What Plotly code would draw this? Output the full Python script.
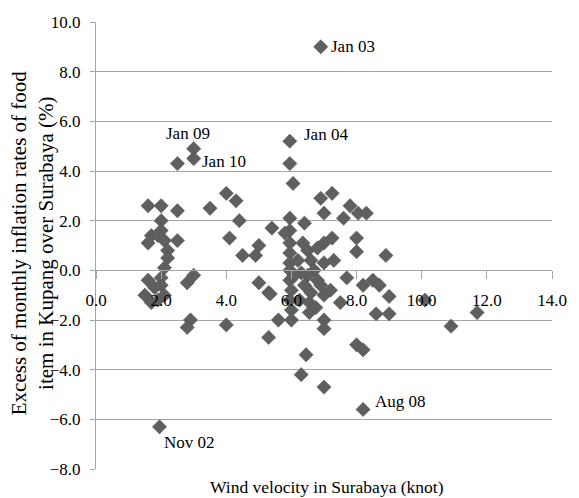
import plotly.graph_objects as go

# Wind velocity (knot) and excess inflation (%)
wind = [
    1.6, 2.0, 2.5, 1.7, 1.6, 2.0, 2.0, 2.1, 1.9, 2.5, 2.2, 2.2, 2.1, 2.0, 1.6, 2.0, 1.8, 1.5, 1.7, 2.1,
    1.9, 2.8, 3.0, 2.9, 2.8, 2.5, 3.0, 3.0, 3.5, 4.0, 4.3, 4.4, 4.1, 4.5, 4.9, 5.0, 5.4, 4.0, 5.0, 5.3,
    5.3, 1.95,
    5.95, 5.95, 6.05, 6.9,
    6.9, 7.25, 7.0, 7.8, 7.6, 8.05, 8.3,
    5.95, 5.95, 5.95, 5.95, 5.95, 5.95, 5.95, 6.0, 5.95, 6.0,
    5.8, 6.4, 6.35, 6.5, 6.6, 6.7, 6.5, 6.8, 6.4, 6.3, 6.6, 6.9, 7.0, 7.0, 7.25, 6.8, 6.2, 6.25, 6.55,
    7.0, 7.0, 7.0, 6.55, 7.5, 7.3, 7.7, 8.0, 8.0, 8.9, 8.2, 8.5, 8.7, 9.0, 8.6, 9.0, 5.6, 6.0, 5.35,
    6.45, 6.3, 7.0, 8.2, 8.0, 8.2, 10.1, 10.9, 11.7, 6.1, 6.75, 7.2,
]
excess = [
    2.6, 2.6, 2.4, 1.4, 1.1, 2.0, 1.6, 1.2, 1.4, 1.2, 0.8, 0.5, 0.1, -0.3, -0.4, -0.6, -0.7, -1.0, -1.3, -1.0,
    -1.2, -0.5, -0.2, -2.0, -2.3, 4.3, 4.9, 4.5, 2.5, 3.1, 2.8, 2.0, 1.3, 0.6, 0.6, 1.0, 1.7, -2.2, -0.5, -0.9,
    -2.7, -6.3,
    5.2, 4.3, 3.5, 9.0,
    2.9, 3.1, 2.3, 2.6, 2.1, 2.3, 2.3,
    2.1, 1.6, 1.1, 0.7, 0.3, 0.0, -0.4, -0.8, -1.2, -1.6,
    1.5, 1.9, 1.1, 0.8, 0.4, 0.0, -0.2, -0.4, -0.6, -0.1, -0.9, -0.6, 0.3, 1.1, 1.3, 0.9, 0.4, -1.2, -1.3,
    -1.0, -2.0, -2.35, -1.7, -1.3, 0.4, -0.3, 1.3, 0.75, 0.6, -0.6, -0.4, -0.6, -1.05, -1.75, -1.75, -2.0, -2.0, -0.95,
    -3.4, -4.2, -4.7, -5.6, -3.0, -3.2, -1.2, -2.25, -1.7, -0.2, -1.5, -0.8,
]

label_text = ["Jan 03", "Jan 09", "Jan 10", "Jan 04", "Aug 08", "Nov 02"]
label_x = [7.16, 2.1, 3.19, 6.32, 8.51, 2.02]
label_y = [9.0, 5.53, 4.4, 5.45, -5.3, -6.95]

x_ticks = [0, 2, 4, 6, 8, 10, 12, 14]
y_ticks = [-8, -6, -4, -2, 0, 2, 4, 6, 8, 10]

FONT = "Liberation Serif"
GRID = "#a6a6a6"

fig = go.Figure()
fig.add_trace(go.Scatter(
    x=wind, y=excess, mode="markers",
    marker=dict(symbol="diamond", size=11, color="#5f5f5f",
                line=dict(width=0.5, color="#555555")),
    showlegend=False, hoverinfo="skip",
))

annotations = []
for t, ax, ay in zip(label_text, label_x, label_y):
    annotations.append(dict(x=ax, y=ay, xref="x", yref="y", text=t, showarrow=False,
                            xanchor="left", yanchor="middle",
                            font=dict(family=FONT, size=17, color="#000000")))

annotations.append(dict(x=7.1, y=0, xref="x", yref="paper", yshift=-18,
                        text="Wind velocity in Surabaya (knot)", showarrow=False,
                        xanchor="center", yanchor="middle",
                        font=dict(family=FONT, size=17.5, color="#000000")))
annotations.append(dict(x=0, y=0.505, xref="paper", yref="paper", xshift=-64,
                        text="Excess of monthly inflation rates of food<br>item in Kupang over Surabaya (%)",
                        showarrow=False, textangle=-90, xanchor="center", yanchor="middle",
                        font=dict(family=FONT, size=21, color="#000000")))

fig.update_layout(
    width=579, height=498,
    margin=dict(l=96, r=18, t=22, b=29, pad=0),
    paper_bgcolor="white", plot_bgcolor="white",
    font=dict(family=FONT, size=17, color="#000000"),
    annotations=annotations,
    xaxis=dict(range=[0, 14], tickvals=x_ticks, tickformat=".1f",
               anchor="free", position=8 / 18,
               showline=True, linecolor=GRID, linewidth=1,
               ticks="outside", ticklen=8, tickcolor=GRID,
               showgrid=False, zeroline=False, ticklabelstandoff=6,
               tickfont=dict(family=FONT, size=17)),
    yaxis=dict(range=[-8, 10], tickvals=y_ticks, tickformat=".1f", domain=[0, 1],
               showline=True, linecolor=GRID, linewidth=1,
               ticks="outside", ticklen=5, tickcolor=GRID,
               showgrid=True, gridcolor=GRID, gridwidth=1, zeroline=False,
               ticklabelstandoff=6, tickfont=dict(family=FONT, size=17)),
)

fig.write_html("out.html")
